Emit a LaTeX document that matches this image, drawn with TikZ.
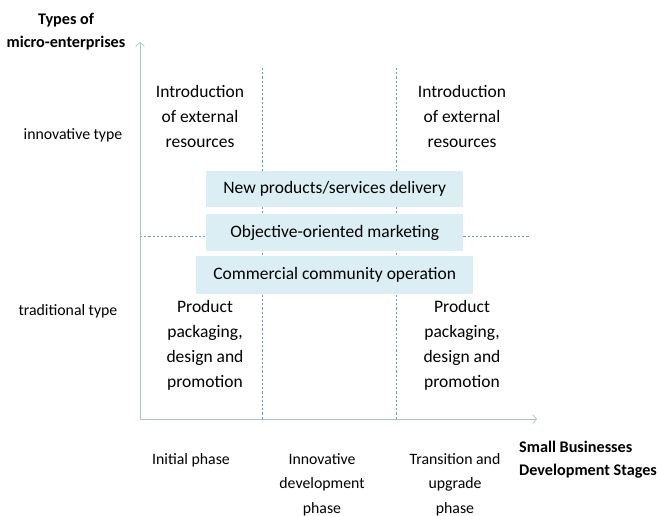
\documentclass[tikz,border=0pt]{standalone}
\usepackage{fontspec}
\setmainfont{Carlito}
\usetikzlibrary{arrows.meta}
\definecolor{axiscol}{HTML}{A9C1DE}
\definecolor{dashcol}{HTML}{6F97CC}
\definecolor{boxfill}{HTML}{DBEEF4}
\tikzset{
  axisline/.style={draw=axiscol, line width=0.9pt, -{Straight Barb[length=4pt,width=9pt,line width=0.7pt]}},
  gridline/.style={draw=dashcol, line width=0.6pt, dash pattern=on 2.2pt off 2pt},
  bigtext/.style={font=\fontsize{17.5}{25}\selectfont, align=center, inner sep=0pt},
  smalltext/.style={font=\fontsize{15.8}{24.5}\selectfont, align=center, inner sep=0pt},
  boldtext/.style={font=\fontsize{16.2}{23}\selectfont\bfseries, align=center, inner sep=0pt},
  bandbox/.style={fill=boxfill, draw=none, font=\fontsize{17.5}{21}\selectfont, inner sep=0pt, anchor=north west}
}
\begin{document}
\begin{tikzpicture}[x=1pt,y=-1pt]
\useasboundingbox (0,0) rectangle (657,516);
% coordinates
\coordinate (O) at (140,419);
\coordinate (ytip) at (140,42);
\coordinate (xtip) at (537,419);
\coordinate (v1t) at (262,68);
\coordinate (v1b) at (262,419);
\coordinate (v2t) at (396,68);
\coordinate (v2b) at (396,419);
\coordinate (hl) at (140,236);
\coordinate (hr) at (529,236);
% grid lines
\draw[gridline] (v1t) -- (v1b);
\draw[gridline] (v2t) -- (v2b);
\draw[gridline] (hl) -- (hr);
% axes
\draw[axisline] (O) -- (ytip);
\draw[axisline] (O) -- (xtip);
% boxes
\node[bandbox, minimum width=257pt, minimum height=36pt] (b1) at (206,171) {};
\node at (b1.center) {\fontsize{17.5}{21}\selectfont New products/services delivery};
\node[bandbox, minimum width=257pt, minimum height=37pt] (b2) at (206,214) {};
\node at (b2.center) {\fontsize{17.5}{21}\selectfont Objective-oriented marketing};
\node[bandbox, minimum width=277pt, minimum height=38pt] (b3) at (196,256) {};
\node at (b3.center) {\fontsize{17.5}{21}\selectfont Commercial community operation};
% axis titles
\node[boldtext] (ytitle) at (66,32) {Types of\\micro-enterprises};
\node[boldtext, align=left, anchor=west] (xtitle) at (519,460) {Small Businesses\\Development Stages};
% y labels
\node[smalltext] (inn) at (73,135) {innovative type};
\node[smalltext] (trad) at (68,311) {traditional type};
% quadrant texts
\node[bigtext] (ext1) at (200,116) {Introduction\\of external\\resources};
\node[bigtext] (ext2) at (462,116) {Introduction\\of external\\resources};
\node[bigtext] (prod1) at (205,345) {Product\\packaging,\\design and\\promotion};
\node[bigtext] (prod2) at (462,345) {Product\\packaging,\\design and\\promotion};
% x labels
\node[smalltext, anchor=north] (ph1) at (191,453) {Initial phase};
\node[smalltext, anchor=north] (ph2) at (322,453) {Innovative\\development\\phase};
\node[smalltext, anchor=north] (ph3) at (455,453) {Transition and\\upgrade\\phase};
\end{tikzpicture}
\end{document}
